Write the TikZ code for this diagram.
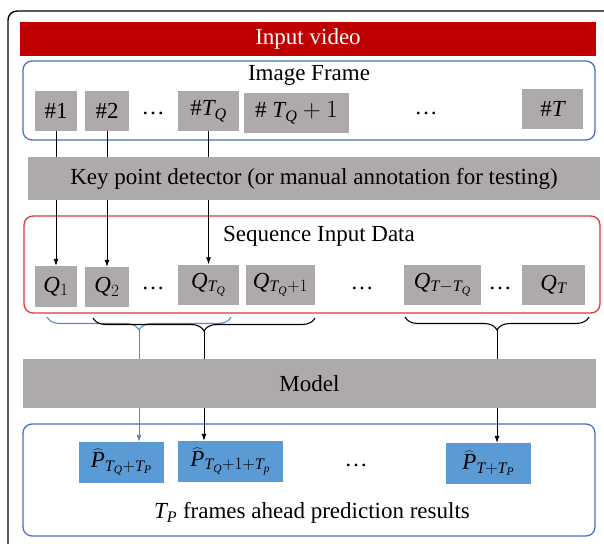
\documentclass[tikz,border=0pt]{standalone}
\usepackage{fontspec}
\setmainfont{Liberation Serif}
\DeclareSymbolFont{letters}{TU}{\rmdefault}{m}{it}
\DeclareSymbolFont{operators}{TU}{\rmdefault}{m}{n}
\usetikzlibrary{arrows.meta,decorations.pathreplacing}
\definecolor{vidred}{HTML}{C00000}
\definecolor{boxgray}{HTML}{AEAAAA}
\definecolor{frameblue}{HTML}{4472C4}
\definecolor{seqred}{HTML}{D63A3A}
\definecolor{predblue}{HTML}{5B9BD5}
\definecolor{bracebl}{HTML}{5B87D0}

\begin{document}
\begin{tikzpicture}[x=1pt,y=-1pt,>={Latex[length=7pt,width=5pt]},font=\fontsize{23}{27}\selectfont]

% --- Global TikZ Styles ---
\tikzset{
    box/.style={fill=boxgray, inner sep=0pt, minimum height=40pt},
    bar/.style={fill=boxgray, inner sep=0pt},
    group/.style={draw=#1, line width=1.3pt, rounded corners=9pt, inner sep=0pt},
    pbox/.style={fill=predblue, inner sep=0pt, minimum height=41pt},
    arrow/.style={->, line width=0.8pt, draw=black},
    curly/.style={decorate, decoration={brace, mirror, amplitude=13pt}, line width=1.1pt}
}

    \useasboundingbox (0,0) rectangle (604,543);
    \clip (0,0) rectangle (604,543);
    \draw[line width=1.4pt, rounded corners=9pt] (8,560) -- (8,11) -- (630,11);

    % Input video
    \node[fill=vidred, text=white, inner sep=0pt, minimum width=576pt, minimum height=34pt] (video) at (308,39) {Input video};

    % Image frames
    \node[group=frameblue, minimum width=572pt, minimum height=79pt] (frames) at (309,100.5) {};
    \node (frametitle) at (309,75) {Image Frame};
    \node[box, minimum width=42pt] (f1) at (56,111) {\#1};
    \node[box, minimum width=44pt] (f2) at (107,111) {\#2};
    \node (fdots1) at (153,113) {\dots};
    \node[box, minimum width=61pt] (fTQ) at (208.5,111) {\#$T_Q$};
    \node[box, minimum width=105pt] (fTQ1) at (296.5,112.5) {\# $T_Q+1$};
    \node (fdots2) at (426,113) {\dots};
    \node[box, minimum width=61pt] (fT) at (552.5,108.5) {\#$T$};

    % Sequence input data
    \node[group=seqred, minimum width=576pt, minimum height=97pt] (seq) at (312,264.5) {};
    \node (seqtitle) at (319,236) {Sequence Input Data};
    \node[box, minimum width=42pt, minimum height=41pt] (q1) at (56,286.5) {$Q_1$};
    \node[box, minimum width=44pt] (q2) at (107,287) {$Q_2$};
    \node (qdots1) at (153,288) {\dots};
    \node[box, minimum width=61pt] (qTQ) at (208.5,284.5) {$Q_{T_Q}$};
    \node[box, minimum width=69pt] (qTQ1) at (280.5,284.5) {$Q_{T_Q+1}$};
    \node (qdots2) at (362,288) {\dots};
    \node[box, minimum width=77pt] (qTTQ) at (442.5,284.5) {$Q_{T-T_Q}$};
    \node (qdots3) at (500,288) {\dots};
    \node[box, minimum width=63pt] (qT) at (553.5,284.5) {$Q_T$};

    \draw[arrow] (f1) -- (q1);
    \draw[arrow] (f2) -- (q2);
    \draw[arrow] (fTQ) -- (qTQ);

    % Key point detector
    \node[bar, minimum width=572pt, minimum height=43pt] (detector) at (314,178.5) {Key point detector (or manual annotation for testing)};

    % Prediction results
    \node[group=frameblue, minimum width=572pt, minimum height=112pt] (pred) at (309,480) {};
    \node[pbox, minimum width=85pt] (p1) at (121.5,462.5) {$\widehat{P}_{T_Q+T_P}$};
    \node[pbox, minimum width=105pt] (p2) at (230.5,461.5) {$\widehat{P}_{T_Q+1+T_p}$};
    \node (pdots) at (356,465) {\dots};
    \node[pbox, minimum width=85pt] (p3) at (488.5,463.5) {$\widehat{P}_{T+T_P}$};
    \node (predtitle) at (312,513) {$T_P$ frames ahead prediction results};

    % Braces
    \draw[curly, draw=bracebl] (47,317) -- (231,317);
    \draw[curly] (93,318) -- (315,318);
    \draw[curly] (405,317) -- (589,317);
    \coordinate (t1) at (139,330);
    \coordinate (t2) at (204,331);
    \coordinate (t3) at (497,330);

    \draw[arrow, draw=bracebl, -{Latex[length=7pt,width=5pt,color=bracebl]}] (t1) -- (t1 |- p1.north);
    \draw[arrow] (t2) -- (t2 |- p2.north);
    \draw[arrow] (t3) -- (t3 |- p3.north);

    % Model
    \node[bar, minimum width=573pt, minimum height=49pt] (model) at (309.5,383.5) {Model};

\end{tikzpicture}
\end{document}
